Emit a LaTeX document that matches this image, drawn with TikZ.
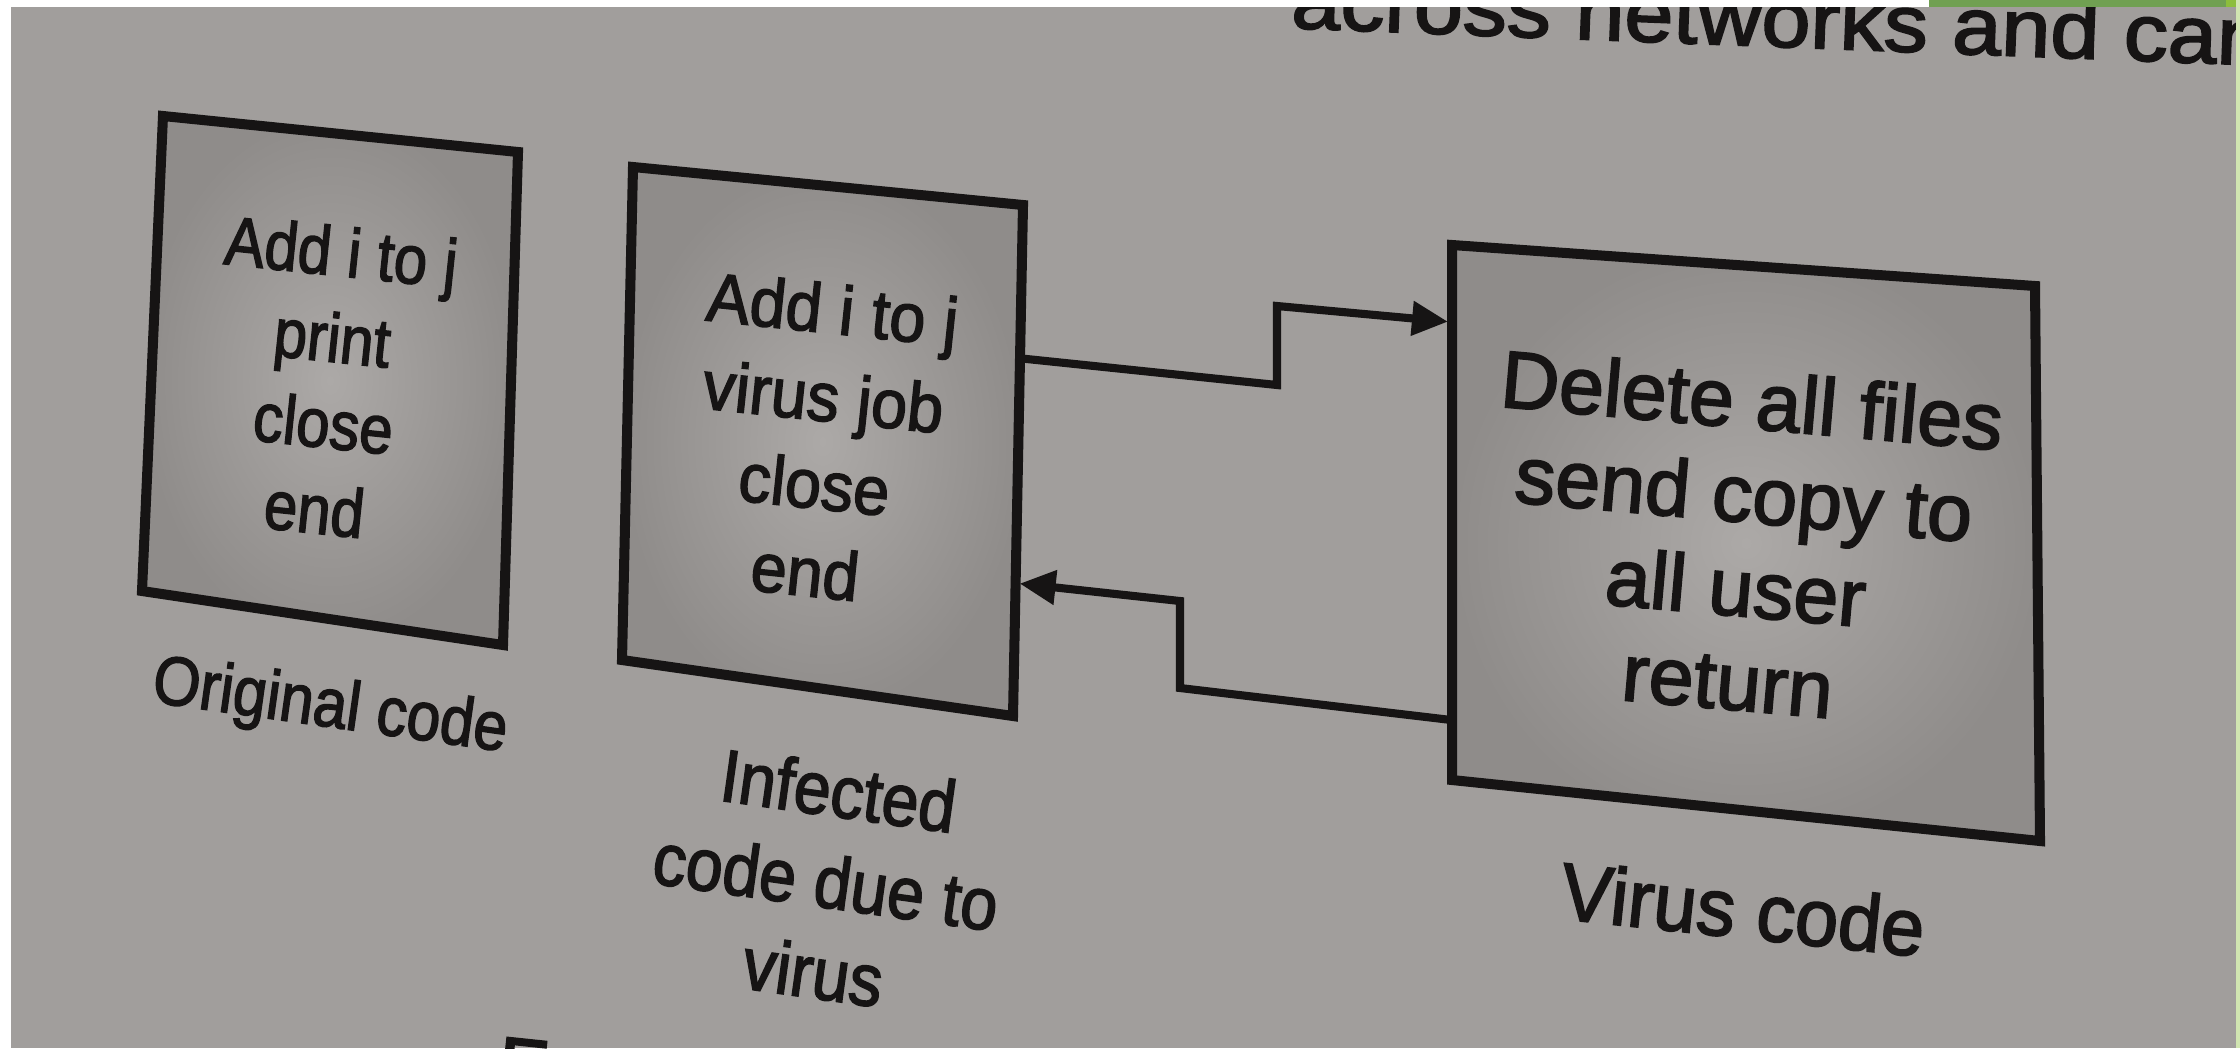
\documentclass[tikz,border=0pt]{standalone}
\usepackage{fontspec}
\setmainfont{Liberation Sans}
\newfontfamily\codefont{Liberation Sans}[FakeBold=2.2]
\usetikzlibrary{arrows.meta,calc}

\definecolor{paper}{RGB}{161,158,156}
\definecolor{boxdark}{RGB}{143,140,138}
\definecolor{boxlight}{RGB}{172,169,167}
\definecolor{ink}{RGB}{22,20,20}
\definecolor{slidegreen}{RGB}{112,160,82}
\definecolor{slidelime}{RGB}{140,190,60}

\begin{document}
\begin{tikzpicture}[
  x=0.01cm, y=-0.01cm,
  boxline/.style={draw=ink, line width=2.85pt, line join=miter},
  boxfill/.style={inner color=boxlight, outer color=boxdark},
  conn/.style={draw=ink, line width=2.3pt, line join=miter,
    -{Triangle[length=0.36cm,width=0.33cm]}, shorten >=0.04cm},
  codetext/.style={align=center, inner sep=0pt, text=ink},
  fsA/.style={font=\codefont\fontsize{19.6pt}{24.5pt}\selectfont},
  fsB/.style={font=\codefont\fontsize{19.6pt}{25pt}\selectfont},
  fsC/.style={font=\codefont\fontsize{23pt}{26.7pt}\selectfont},
  fsL/.style={font=\codefont\fontsize{21pt}{26pt}\selectfont},
]
\useasboundingbox (0,0) rectangle (2240,1048);
\clip (0,0) rectangle (2240,1048);

% page
\fill[paper] (0,0) rectangle (2240,1048);

% running text at the top of the page
\node[anchor=base west, inner sep=0pt, text=ink, rotate=-2.2, xscale=1.09,
      font=\codefont\fontsize{23pt}{26pt}\selectfont] (runtext) at (1290,28)
  {across networks and can};
% caption letter at the foot of the page
\node[anchor=north west, inner sep=0pt, text=ink, rotate=-6,
      font=\codefont\fontsize{23pt}{26pt}\selectfont] (figcap) at (500,1036) {F};

% frame strips
\fill[white] (0,0) rectangle (11,1048);
\fill[white] (0,0) rectangle (1929,7);
\fill[slidegreen] (1929,0) rectangle (2240,7);
\fill[slidelime] (2226,0) rectangle (2240,7);
\fill[slidelime!40!white] (2236,0) rectangle (2240,1048);

% box corners
\coordinate (b1tl) at (163,116);  \coordinate (b1tr) at (518,152);
\coordinate (b1br) at (503,645);  \coordinate (b1bl) at (142,591);
\coordinate (b2tl) at (633,167);  \coordinate (b2tr) at (1023,205);
\coordinate (b2br) at (1013,716); \coordinate (b2bl) at (622,660);
\coordinate (b3tl) at (1452,245); \coordinate (b3tr) at (2035,286);
\coordinate (b3br) at (2040,841); \coordinate (b3bl) at (1452,780);

% boxes
\foreach \b in {b1,b2,b3}{
  \shade[boxfill] (\b tl) -- (\b tr) -- (\b br) -- (\b bl) -- cycle;
  \draw[boxline] (\b tl) -- (\b tr) -- (\b br) -- (\b bl) -- cycle;
}

% box contents
\node[codetext, fsA, rotate=-6, xscale=0.87] (orig) at (328,380)
  {Add i to j\\print\\close\\end};
\node[codetext, fsB, rotate=-6, xscale=0.94] (infected) at (819,440)
  {Add i to j\\virus job\\close\\end};
\node[codetext, fsC, rotate=-5, xscale=1.0] (virus) at (1740,540)
  {Delete all files\\send copy to\\all user\\return};

% captions
\node[codetext, fsA, rotate=-8, xscale=0.88] (origlbl) at (330,709) {Original code};
\node[codetext, fsL, rotate=-8, xscale=0.9] (inflbl) at (826,881)
  {Infected\\code due to\\virus};
\node[codetext, fsC, rotate=-6, xscale=0.96] (viruslbl) at (1743,909) {Virus code};

% connector ends on the box edges
\coordinate (b2out) at ($(b2tr)!0.30!(b2br)$);
\coordinate (b2in)  at ($(b2tr)!0.74!(b2br)$);
\coordinate (b3in)  at ($(b3tl)!0.144!(b3bl)$);
\coordinate (b3out) at ($(b3tl)!0.888!(b3bl)$);

% jump to the virus code and back
\draw[conn] (b2out) -- (1277,385) -- (1277,306) -- (b3in);
\draw[conn] (b3out) -- (1180,688) -- (1180,601) -- (b2in);
\end{tikzpicture}
\end{document}
